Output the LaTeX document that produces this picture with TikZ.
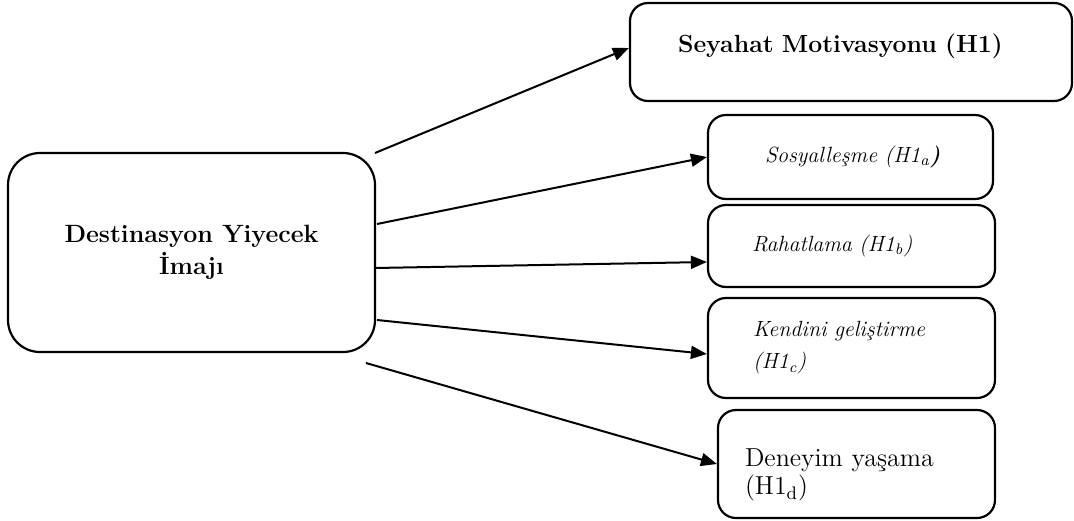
\documentclass[tikz,border=0pt]{standalone}
\usepackage{tikz}
\usetikzlibrary{arrows.meta}
\tikzset{>={Triangle[length=8pt,width=6.5pt]}}

\begin{document}
\begin{tikzpicture}[x=0.5pt,y=-0.5pt,
roundbox/.style={rectangle, align=left, draw=black, line width=1.1pt, rounded corners=9pt, inner sep=0pt},
leftpad/.style={execute at begin node={\leftskip=#1}},
itfont/.style={font=\itshape\fontsize{11}{16}\selectfont},
arrowline/.style={->, line width=1pt},
]
\useasboundingbox (0,0) rectangle (1074,520);
%Nodes
\node[roundbox, rounded corners=16pt, align=center, minimum width=183.5pt, minimum height=99.5pt,
  font=\bfseries\fontsize{12.5}{16}\selectfont](Imaj) at (191.5,252.5){Destinasyon Yiyecek\\İmajı};
\node[roundbox, minimum width=221pt, minimum height=49pt, text width=221pt, leftpad=24pt,
  text height=6pt, text depth=6pt, font=\bfseries\fontsize{12.4}{15}\selectfont](Motiv) at (851,52){Seyahat Motivasyonu (H1)};
\node[roundbox, itfont, minimum width=142.5pt, minimum height=42pt, text width=142.5pt, leftpad=28.5pt](Sosyal) at (850.5,157){Sosyalleşme (H1\textsubscript{a}\textbf{)}};
\node[roundbox, itfont, minimum width=143.5pt, minimum height=41pt, text width=143.5pt, leftpad=22pt](Rahat) at (851.5,246){Rahatlama (H1\textsubscript{b})};
\node[roundbox, itfont, minimum width=143.5pt, minimum height=50pt, text width=143.5pt, leftpad=22.5pt](Kendini) at (851.5,348){Kendini geliştirme\\(H1\textsubscript{c})};
\node[roundbox, minimum width=138.5pt, minimum height=54pt, text width=138.5pt, leftpad=13.5pt,
  text height=20pt, font=\fontsize{13}{14}\selectfont](Deneyim) at (856.5,464){Deneyim yaşama\\(H1\textsubscript{d})};

%Lines
\coordinate (o1) at (375,153);
\coordinate (o2) at (377,224);
\coordinate (o3) at (375,268);
\coordinate (o4) at (377,320);
\coordinate (o5) at (366,363);
\draw[arrowline] (o1) -- ([yshift=2pt]Motiv.west);
\draw[arrowline] (o2) -- (Sosyal.west);
\draw[arrowline] (o3) -- ([yshift=-8pt]Rahat.west);
\draw[arrowline] (o4) -- ([yshift=-3pt]Kendini.west);
\draw[arrowline] (o5) -- (Deneyim.west);
\end{tikzpicture}
\end{document}
